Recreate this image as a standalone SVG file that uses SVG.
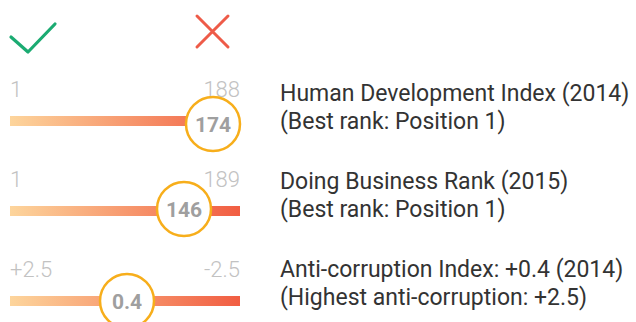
<svg xmlns="http://www.w3.org/2000/svg" width="636" height="322" viewBox="0 0 636 322">
<defs>
<linearGradient id="bar" x1="10" y1="0" x2="240" y2="0" gradientUnits="userSpaceOnUse">
<stop offset="0" stop-color="#fdd59c"/>
<stop offset="1" stop-color="#f15d42"/>
</linearGradient>
<style>
.lbl{font-family:Roboto,"Liberation Sans",sans-serif;font-weight:300;font-size:22px;fill:#c2c2c2}
.val{font-family:Roboto,"Liberation Sans",sans-serif;font-weight:700;font-size:21px;fill:#9f9f9f;text-anchor:middle}
.txt{font-family:Roboto,"Liberation Sans",sans-serif;font-size:23px;fill:#333333}
.ring{fill:#ffffff;stroke:#f7ae1b;stroke-width:2.5}
.end{text-anchor:end}
</style>
</defs>
<g id="icons">
<polyline points="11,37 28,52 55,24" fill="none" stroke="#1bab72" stroke-width="3.2" stroke-linecap="round" stroke-linejoin="round"/>
<path d="M197,16 L228,47 M228,16 L197,47" fill="none" stroke="#ee5b48" stroke-width="3" stroke-linecap="round"/>
</g>
<g id="hdi">
<text class="lbl" x="10" y="97">1</text>
<text class="lbl end" x="240" y="97">188</text>
<rect x="10" y="116" width="230" height="10" fill="url(#bar)"/>
<circle class="ring" cx="213" cy="124" r="27"/>
<text class="val" x="213" y="132">174</text>
<text class="txt" x="280" y="101">Human Development Index (2014)</text>
<text class="txt" x="280" y="129">(Best rank: Position 1)</text>
</g>
<g id="dbr">
<text class="lbl" x="10" y="187">1</text>
<text class="lbl end" x="240" y="187">189</text>
<rect x="10" y="206" width="230" height="10" fill="url(#bar)"/>
<circle class="ring" cx="184" cy="209" r="27"/>
<text class="val" x="184" y="217">146</text>
<text class="txt" x="280" y="189">Doing Business Rank (2015)</text>
<text class="txt" x="280" y="217">(Best rank: Position 1)</text>
</g>
<g id="aci">
<text class="lbl" x="10" y="277">+2.5</text>
<text class="lbl end" x="240" y="277">-2.5</text>
<rect x="10" y="296" width="230" height="10" fill="url(#bar)"/>
<circle class="ring" cx="127" cy="301" r="27"/>
<text class="val" x="127" y="309">0.4</text>
<text class="txt" x="280" y="277">Anti-corruption Index: +0.4 (2014)</text>
<text class="txt" x="280" y="305">(Highest anti-corruption: +2.5)</text>
</g>
<g id="connectors"></g>
</svg>
